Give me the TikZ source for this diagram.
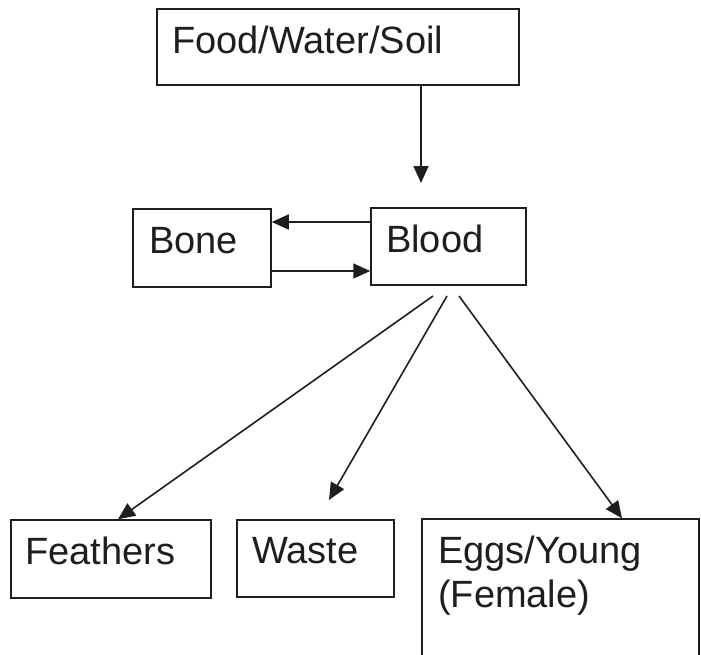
\documentclass[tikz,border=0pt]{standalone}
\usepackage{fontspec}
\setmainfont{Liberation Sans}
\usetikzlibrary{arrows.meta,calc}
\definecolor{ink}{HTML}{1E1E1E}
\begin{document}
\begin{tikzpicture}[x=1pt,y=-1pt,
  box/.style={draw=ink, line width=1.5pt, inner sep=0pt, rectangle},
  lbl/.style={anchor=base west, inner sep=0pt, text=ink, font=\fontsize{38}{44}\selectfont, align=left},
  arr/.style={draw=ink, line width=1.6pt, -{Triangle[length=17pt,width=15pt]}}]
\clip (0,0) rectangle (701,654);
% boxes
\node[box, minimum width=362pt, minimum height=76pt] (fws) at (338,47) {};
\node[box, minimum width=138pt, minimum height=78pt] (bone) at (202,248) {};
\node[box, minimum width=155pt, minimum height=77pt] (blood) at (448.5,246.5) {};
\node[box, minimum width=200pt, minimum height=78pt] (feathers) at (111,559) {};
\node[box, minimum width=157pt, minimum height=77pt] (waste) at (315.5,558.5) {};
\node[box, minimum width=277pt, minimum height=161pt] (eggs) at (560.5,599.5) {};
% labels
\node[lbl] (fwst) at (172,53) {Food/Water/Soil};
\node[lbl] (bonet) at (149,253) {Bone};
\node[lbl] (bloodt) at (386,252) {Blood};
\node[lbl] (featht) at (25,564) {Feathers};
\node[lbl] (wastet) at (252,563) {Waste};
\node[lbl] (eggst) at (438,607) {Eggs/Young\\(Female)};
% helper coordinates
\coordinate (topend) at (421,183);
\coordinate (yup) at (0,222);
\coordinate (ylow) at (0,271);
\coordinate (f1) at (433,296);
\coordinate (f2) at (447,296);
\coordinate (f3) at (459,296);
\coordinate (xfe) at (118,0);
\coordinate (wend) at (329,500);
\coordinate (xeg) at (622,0);
% connectors
\draw[arr] (fws.south -| topend) -- (topend);
\draw[arr] (blood.west |- yup) -- (bone.east |- yup);
\draw[arr] (bone.east |- ylow) -- (blood.west |- ylow);
\draw[arr] (f1) -- (feathers.north -| xfe);
\draw[arr] (f2) -- (wend);
\draw[arr] (f3) -- (eggs.north -| xeg);
\end{tikzpicture}
\end{document}
